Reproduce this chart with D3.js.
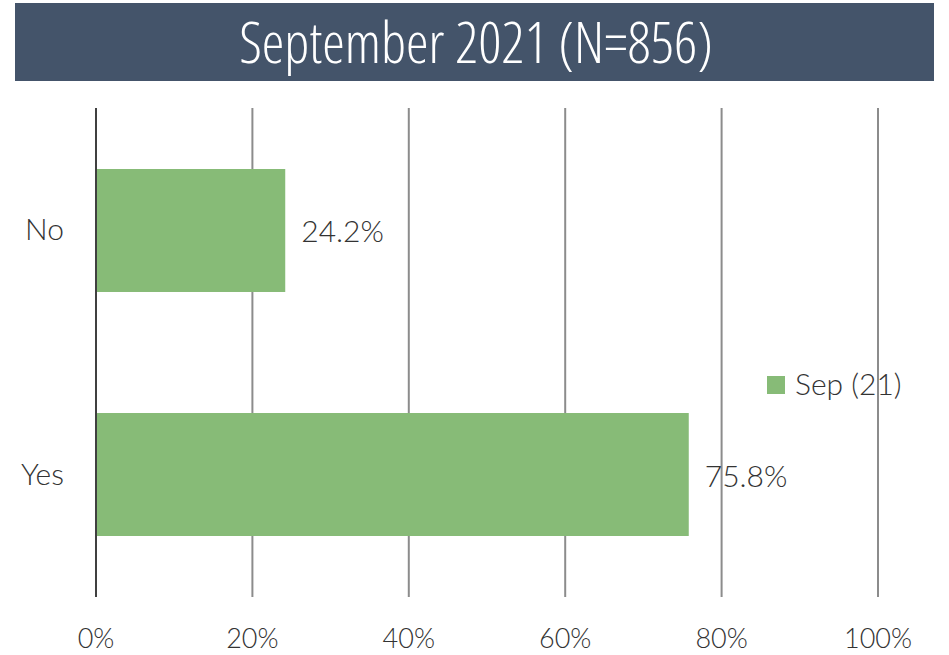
<!DOCTYPE html>
<html>
<head>
<meta charset="utf-8">
<script src="https://cdn.jsdelivr.net/npm/d3@7"></script>
<style>
  body { margin: 0; background: #fff; }
  text { font-family: Lato, "Open Sans", sans-serif; font-weight: 300; }
</style>
</head>
<body>
<div class="chart"></div>
<script>
// chart data
const categories = ["No", "Yes"];
const values = [24.2, 75.8];
const ticks = [0, 20, 40, 60, 80, 100];
const seriesName = "Sep (21)";
const title = "September 2021 (N=856)";

const width = 949;
const height = 655;

var svg = d3.select(".chart")
  .append("svg")
    .attr("width", width)
    .attr("height", height);

// title banner
svg.append("rect")
  .attr("x", 15).attr("y", 3)
  .attr("width", 919).attr("height", 78)
  .attr("fill", "#44546a");

svg.append("text")
  .attr("x", 476).attr("y", 63)
  .attr("text-anchor", "middle")
  .attr("fill", "#fff")
  .style("font-family", "'Open Sans', sans-serif")
  .style("font-weight", 300)
  .style("font-size", "57px")
  .style("font-stretch", "condensed")
  .text(title);

// scales
var x = d3.scaleLinear()
  .domain([0, 100])
  .range([96, 878]);

var y = d3.scaleBand()
  .domain(categories)
  .range([108, 597])
  .paddingInner(0.496)
  .paddingOuter(0.25);

// gridlines
svg.selectAll("line.grid")
  .data(ticks.slice(1))
  .enter()
  .append("line")
    .attr("class", "grid")
    .attr("x1", d => x(d)).attr("x2", d => x(d))
    .attr("y1", 108).attr("y2", 597)
    .attr("stroke", "#8c8c8c")
    .attr("stroke-width", 2);

// bars
svg.selectAll("rect.bar")
  .data(values)
  .enter()
  .append("rect")
    .attr("class", "bar")
    .attr("x", x(0))
    .attr("y", (d, i) => y(categories[i]))
    .attr("width", d => x(d) - x(0))
    .attr("height", y.bandwidth())
    .attr("fill", "#87bb77");

// axis line
svg.append("line")
  .attr("x1", x(0)).attr("x2", x(0))
  .attr("y1", 108).attr("y2", 597)
  .attr("stroke", "#404040")
  .attr("stroke-width", 2);

// value labels
svg.selectAll("text.val")
  .data(values)
  .enter()
  .append("text")
    .attr("class", "val")
    .attr("x", d => x(d) + 16)
    .attr("y", (d, i) => y(categories[i]) + y.bandwidth() / 2 + 12)
    .attr("fill", "#333")
    .style("font-size", "30px")
    .text(d => d.toFixed(1) + "%");

// category labels
svg.selectAll("text.cat")
  .data(categories)
  .enter()
  .append("text")
    .attr("class", "cat")
    .attr("x", 64)
    .attr("y", d => y(d) + y.bandwidth() / 2 + 10)
    .attr("text-anchor", "end")
    .attr("fill", "#333")
    .style("font-size", "30px")
    .text(d => d);

// x tick labels
svg.selectAll("text.tick")
  .data(ticks)
  .enter()
  .append("text")
    .attr("class", "tick")
    .attr("x", d => x(d))
    .attr("y", 648)
    .attr("text-anchor", "middle")
    .attr("fill", "#333")
    .style("font-size", "27px")
    .text(d => d + "%");

// legend
svg.append("rect")
  .attr("x", 767).attr("y", 376)
  .attr("width", 18).attr("height", 18)
  .attr("fill", "#87bb77");

svg.append("text")
  .attr("x", 795).attr("y", 395)
  .attr("fill", "#333")
  .style("font-size", "30px")
  .text(seriesName);
</script>
</body>
</html>
